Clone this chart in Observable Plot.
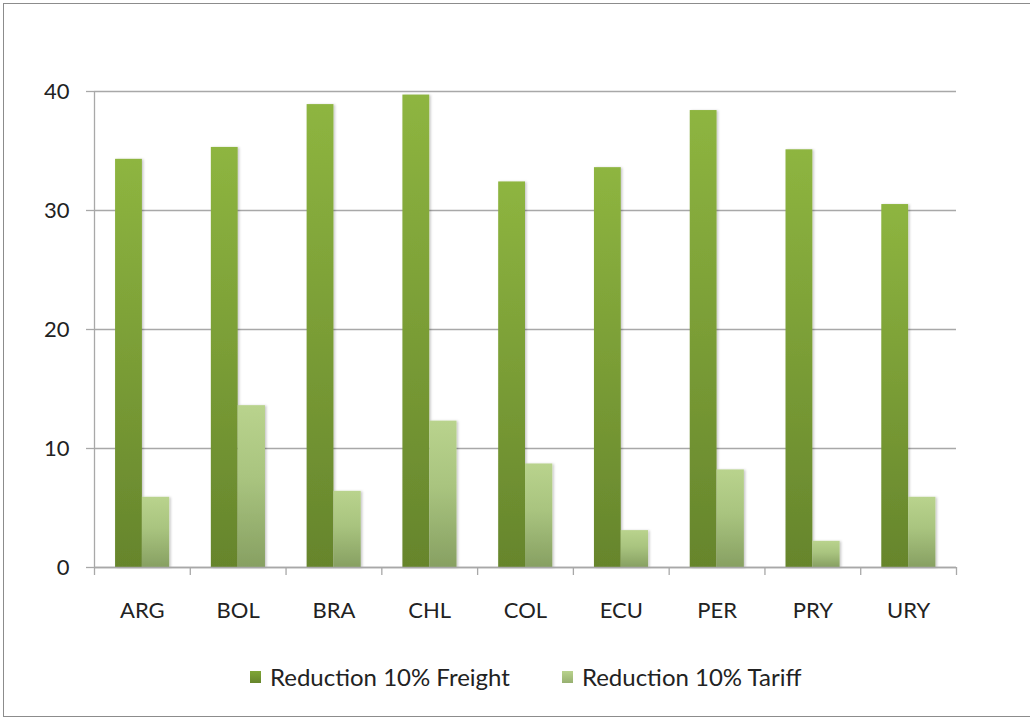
<!DOCTYPE html>
<html>
<head>
<meta charset="utf-8">
<script src="https://cdn.jsdelivr.net/npm/d3@7"></script>
<script src="https://cdn.jsdelivr.net/npm/@observablehq/plot@0.6"></script>
<style>
  html, body { margin: 0; padding: 0; background: #fff; overflow: hidden; width: 1030px; height: 717px; }
  #wrap { position: relative; width: 1030px; height: 717px; overflow: hidden; }
  #frame { position: absolute; left: 3px; top: 3px; width: 1040px; height: 714px; border: 1.5px solid #8c8c8c; box-sizing: border-box; }
  #chart { position: absolute; left: 0; top: 0; }
  #legend { position: absolute; top: 662px; left: 250px; font-family: Lato, sans-serif; font-size: 24px; line-height: 30px; color: #222; display: flex; align-items: center; white-space: nowrap; }
  .item { display: flex; align-items: center; }
  .sw { width: 11px; height: 12px; display: inline-block; margin-right: 9px; }
</style>
</head>
<body>
<div id="wrap">
  <div id="frame"></div>
  <div id="chart"></div>
  <div id="legend"></div>
</div>
<script>
const countries = ["ARG", "BOL", "BRA", "CHL", "COL", "ECU", "PER", "PRY", "URY"];
const freight = [34.3, 35.3, 38.9, 39.7, 32.4, 33.6, 38.4, 35.1, 30.5];
const tariff = [5.9, 13.6, 6.4, 12.3, 8.7, 3.1, 8.2, 2.2, 5.9];
const seriesNames = ["Reduction 10% Freight", "Reduction 10% Tariff"];
const yTicks = [0, 10, 20, 30, 40];

const freightRows = countries.map((c, i) => ({country: c, i, value: freight[i]}));
const tariffRows = countries.map((c, i) => ({country: c, i, value: tariff[i]}));

const gridColor = "#a8a8a8";

const svg = Plot.plot({
  width: 1030,
  height: 637,
  marginLeft: 94,
  marginRight: 74,
  marginTop: 91,
  marginBottom: 70,
  x: {domain: [0, countries.length], axis: null, label: null},
  y: {domain: [0, 40], axis: null, label: null},
  style: {fontFamily: "Lato, sans-serif", fontSize: "22px", color: "#222", background: "transparent"},
  marks: [
    Plot.gridY(yTicks, {stroke: gridColor, strokeOpacity: 1, strokeWidth: 1.3}),
    Plot.axisY(yTicks, {label: null, tickSize: 8, tickPadding: 17, stroke: gridColor, strokeWidth: 1.3, fontSize: 22, tickFormat: d => String(d)}),
    Plot.ruleX([0], {stroke: gridColor, strokeWidth: 1.3}),
    Plot.axisX(d3.range(countries.length + 1), {label: null, tickSize: 8, tickFormat: () => "", stroke: gridColor, strokeWidth: 1.3}),
    Plot.axisX(countries.map((c, i) => i + 0.5), {label: null, tickSize: 0, tickPadding: 35, fontSize: 22, tickFormat: d => countries[Math.floor(d)]}),
    Plot.rectY(freightRows, {x1: d => d.i + 0.22, x2: d => d.i + 0.5, y: "value", fill: "url(#gFreight)"}),
    Plot.rectY(tariffRows, {x1: d => d.i + 0.5, x2: d => d.i + 0.785, y: "value", fill: "url(#gTariff)"}),
    Plot.ruleY([0], {stroke: gridColor, strokeWidth: 1.3})
  ]
});

svg.insertAdjacentHTML("afterbegin", `
<defs>
  <linearGradient id="gFreight" x1="0" y1="0" x2="0" y2="1">
    <stop offset="0" stop-color="#8eb540"/>
    <stop offset="1" stop-color="#66852c"/>
  </linearGradient>
  <linearGradient id="gTariff" x1="0" y1="0" x2="0" y2="1">
    <stop offset="0" stop-color="#b9d38d"/>
    <stop offset="0.45" stop-color="#a9c47f"/>
    <stop offset="1" stop-color="#87a062"/>
  </linearGradient>
  <filter id="shadow" x="-20%" y="-5%" width="140%" height="110%">
    <feDropShadow dx="1.5" dy="0.5" stdDeviation="1.2" flood-color="#000" flood-opacity="0.22"/>
  </filter>
</defs>`);
d3.select(svg).selectAll("g[aria-label='rect']").attr("filter", "url(#shadow)");

document.getElementById("chart").appendChild(svg);

const legend = document.getElementById("legend");
const swatches = ["linear-gradient(#7fa637, #66852c)", "linear-gradient(#b9d38d, #97b070)"];
seriesNames.forEach((name, k) => {
  const item = document.createElement("div");
  item.className = "item";
  item.style.marginRight = k === 0 ? "52px" : "0";
  const sw = document.createElement("span");
  sw.className = "sw";
  sw.style.background = swatches[k];
  item.appendChild(sw);
  const t = document.createElement("span");
  t.textContent = name;
  item.appendChild(t);
  legend.appendChild(item);
});
</script>
</body>
</html>
